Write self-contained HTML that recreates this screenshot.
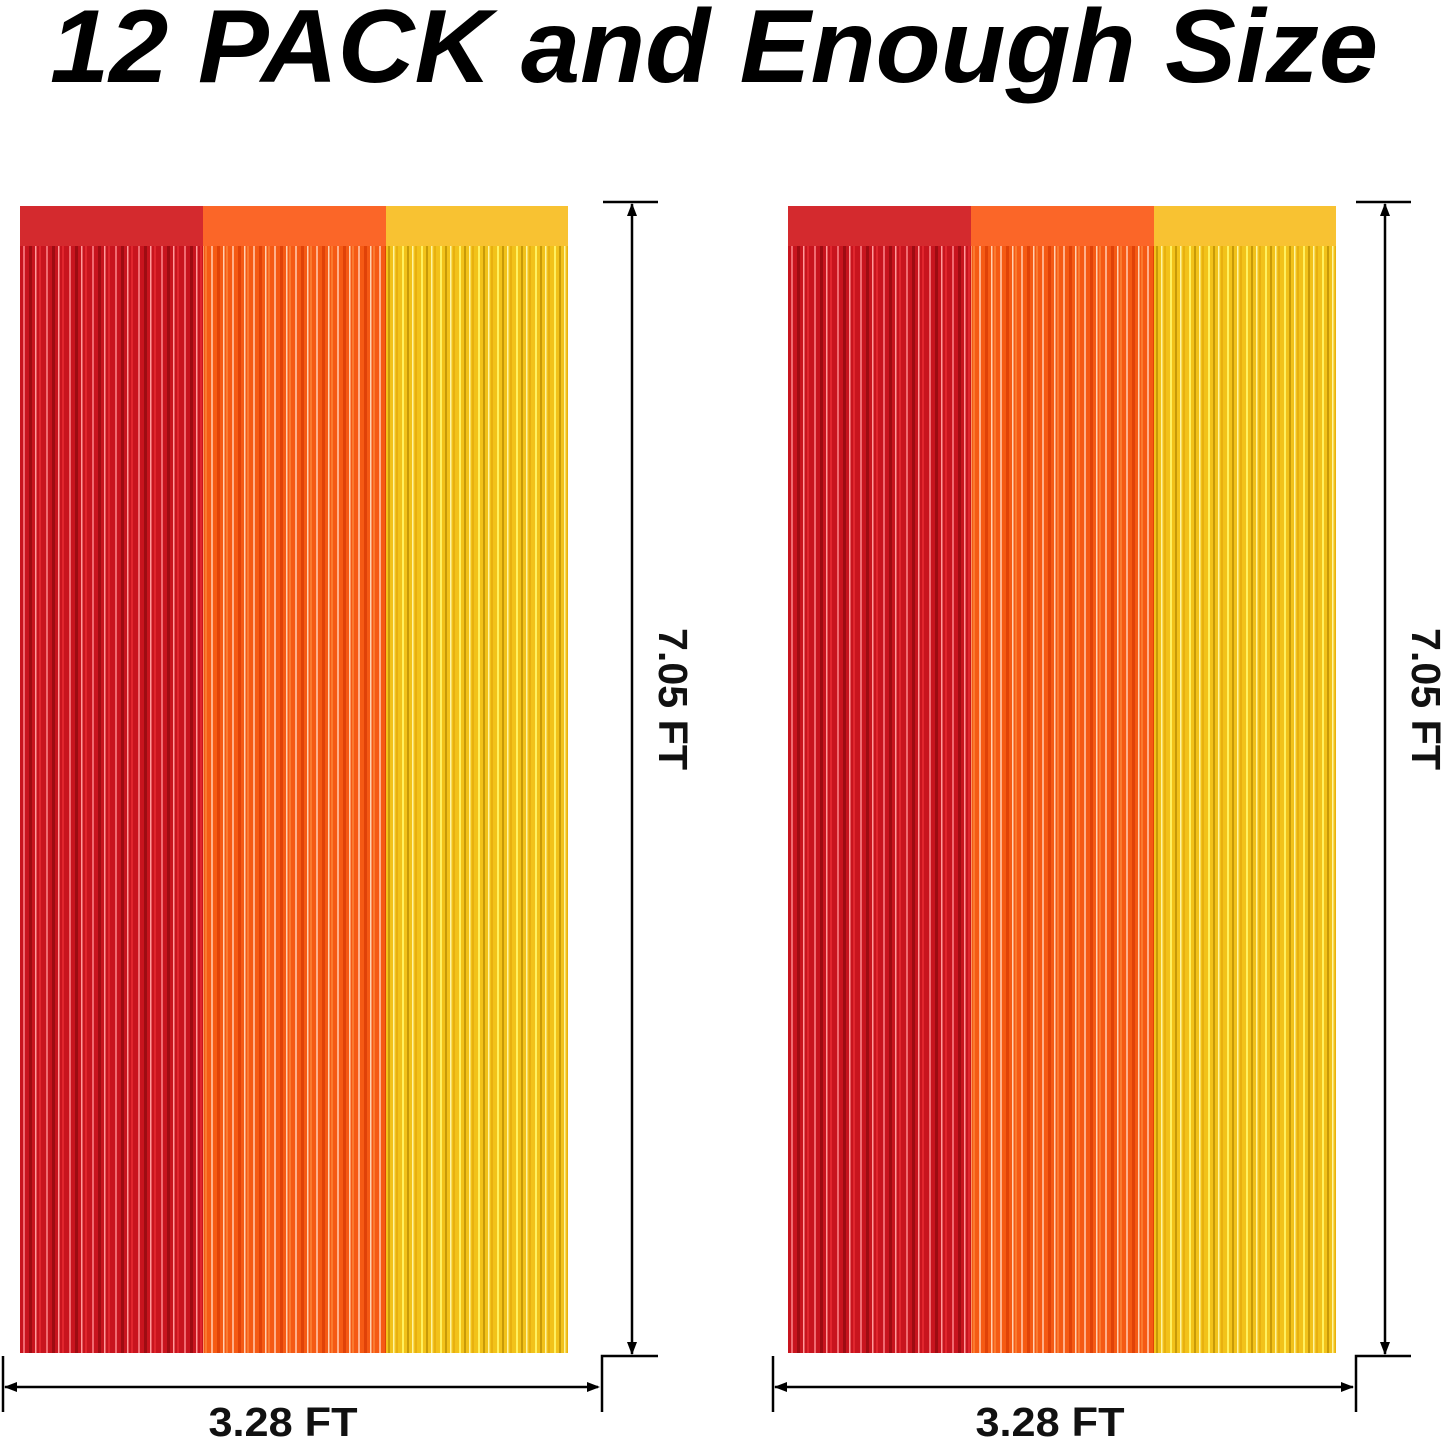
<!DOCTYPE html>
<html><head><style>
html,body{margin:0;padding:0;background:#fff;}
</style></head><body>
<div style="position:relative;width:1445px;height:1438px;overflow:hidden;">
<svg width="1445" height="1438" style="position:absolute;left:0;top:0" font-family="Liberation Sans, sans-serif">
<defs>
<pattern id="pr" width="23" height="10" patternUnits="userSpaceOnUse">
<rect width="23" height="10" fill="#c8141e"/><rect x="3" width="2" height="10" fill="#f06a70"/><rect x="9" width="3" height="10" fill="#9e0c12"/><rect x="15" width="1.5" height="10" fill="#ff9a9a"/><rect x="19" width="2" height="10" fill="#e0262e"/></pattern>
<pattern id="po" width="21" height="10" patternUnits="userSpaceOnUse">
<rect width="21" height="10" fill="#f55a14"/><rect x="2" width="2" height="10" fill="#ffb08a"/><rect x="8" width="3" height="10" fill="#e04208"/><rect x="14" width="1.5" height="10" fill="#ffd0b0"/><rect x="17" width="2" height="10" fill="#fa7a30"/></pattern>
<pattern id="py" width="19" height="10" patternUnits="userSpaceOnUse">
<rect width="19" height="10" fill="#f2c21a"/><rect x="2" width="2" height="10" fill="#fff060"/><rect x="7" width="2" height="10" fill="#c89a08"/><rect x="12" width="1.5" height="10" fill="#fff4a0"/><rect x="15" width="2" height="10" fill="#e8b010"/></pattern>
<g id="cur">
<rect x="0" y="0" width="183" height="1147" fill="url(#pr)"/>
<rect x="183" y="0" width="183" height="1147" fill="url(#po)"/>
<rect x="366" y="0" width="182" height="1147" fill="url(#py)"/>
<rect x="0" y="0" width="183" height="40" fill="#d42a2e"/>
<rect x="183" y="0" width="183" height="40" fill="#fb6628"/>
<rect x="366" y="0" width="182" height="40" fill="#f8c232"/>
</g>
</defs>
<text x="50" y="82" font-size="104" font-weight="bold" font-style="italic" textLength="1328" lengthAdjust="spacingAndGlyphs" fill="#000">12 PACK and Enough Size</text>
<use href="#cur" x="20" y="206"/>
<use href="#cur" x="788" y="206"/>
<g stroke="#000" stroke-width="2.5" fill="none">
<line x1="603" y1="202" x2="658" y2="202"/><line x1="632" y1="204" x2="632" y2="1354"/>
<polyline points="658,1356 602,1356 602,1412"/><line x1="3" y1="1356" x2="3" y2="1412"/>
<line x1="5" y1="1387" x2="598" y2="1387"/>
<line x1="1356" y1="202" x2="1411" y2="202"/><line x1="1385" y1="204" x2="1385" y2="1354"/>
<polyline points="1411,1356 1356,1356 1356,1412"/><line x1="773" y1="1356" x2="773" y2="1412"/>
<line x1="775" y1="1387" x2="1353" y2="1387"/>
</g>
<g fill="#000">
<polygon points="632,203 627,216 637,216"/><polygon points="632,1355 627,1342 637,1342"/>
<polygon points="4,1387 17,1382 17,1392"/><polygon points="600,1387 587,1382 587,1392"/>
<polygon points="1385,203 1380,216 1390,216"/><polygon points="1385,1355 1380,1342 1390,1342"/>
<polygon points="774,1387 787,1382 787,1392"/><polygon points="1354,1387 1341,1382 1341,1392"/>
</g>
<g font-size="41" font-weight="bold" fill="#111" text-anchor="middle">
<text x="283" y="1436" textLength="149" lengthAdjust="spacingAndGlyphs">3.28 FT</text>
<text x="1050" y="1436" textLength="149" lengthAdjust="spacingAndGlyphs">3.28 FT</text>
<text transform="translate(659,699) rotate(90)" textLength="142" lengthAdjust="spacingAndGlyphs">7.05 FT</text>
<text transform="translate(1412,699) rotate(90)" textLength="142" lengthAdjust="spacingAndGlyphs">7.05 FT</text>
</g>
</svg>
</div>
</body></html>
